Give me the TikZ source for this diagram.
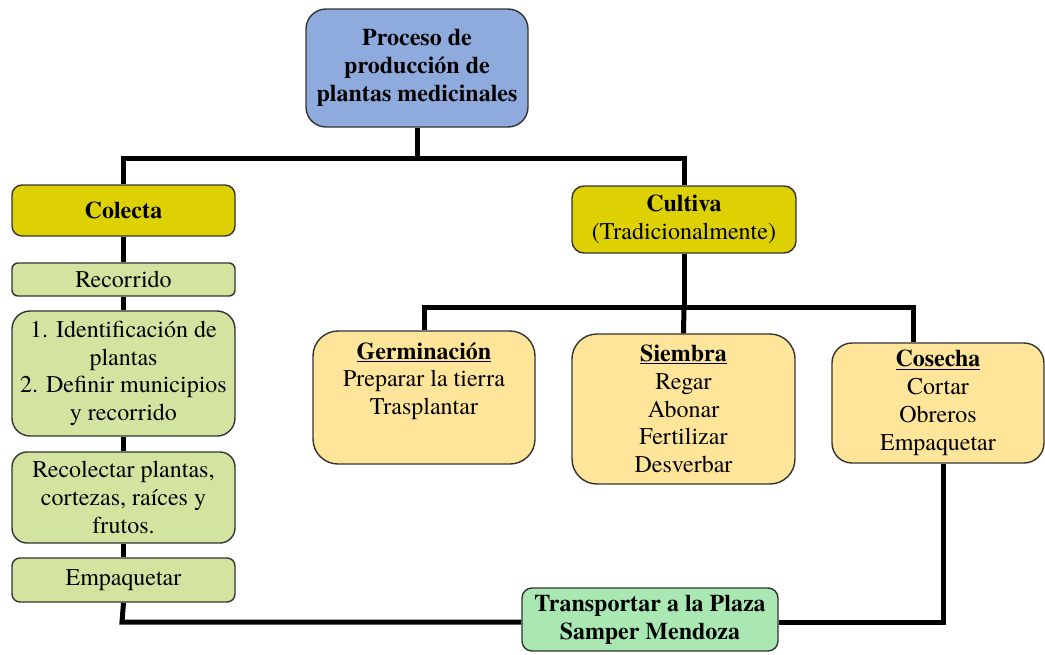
\documentclass[tikz,border=0pt]{standalone}
\usepackage{fontspec}
\setmainfont{texgyretermes}[Extension=.otf, UprightFont=*-regular, BoldFont=*-bold, ItalicFont=*-italic, BoldItalicFont=*-bolditalic]
\usetikzlibrary{backgrounds}
\definecolor{rootc}{HTML}{8FAADC}
\definecolor{olivec}{HTML}{DDD104}
\definecolor{lgreen}{HTML}{D3E3A0}
\definecolor{peach}{HTML}{FFE599}
\definecolor{mint}{HTML}{A9E7B3}
\definecolor{edge}{HTML}{333333}
\tikzset{
  boxs/.style={draw=edge, line width=1.4pt, inner sep=0pt, align=center,
    font=\fontsize{24}{27.8}\selectfont},
  conn/.style={line width=5pt, black},
}
\begin{document}
\begin{tikzpicture}[x=1pt,y=-1pt]
\useasboundingbox (0,0) rectangle (1045,654);
\node[boxs, fill=rootc, rounded corners=20pt, minimum width=222pt, minimum height=118pt] (root) at (417,68)
  {\textbf{Proceso de}\\\textbf{producción de}\\\textbf{plantas medicinales}};
\node[boxs, fill=olivec, rounded corners=10pt, minimum width=223pt, minimum height=51pt] (colecta) at (123.5,210.5)
  {\textbf{Colecta}};
\node[boxs, fill=olivec, rounded corners=12pt, minimum width=224pt, minimum height=67pt] (cultiva) at (684,219.5)
  {\textbf{Cultiva}\\(Tradicionalmente)};
\node[boxs, fill=lgreen, rounded corners=6pt, minimum width=223pt, minimum height=33pt] (recorrido) at (123.5,279.5)
  {Recorrido};
\node[boxs, fill=lgreen, rounded corners=18pt, minimum width=223pt, minimum height=125pt] (ident) at (123.5,373.5)
  {1. Identificación de\\plantas\\2. Definir municipios\\y recorrido};
\node[boxs, fill=lgreen, rounded corners=15pt, minimum width=223pt, minimum height=91pt] (recol) at (123.5,497.5)
  {Recolectar plantas,\\cortezas, raíces y\\frutos.};
\node[boxs, fill=lgreen, rounded corners=8pt, minimum width=223pt, minimum height=44pt] (empaq) at (123.5,580)
  {Empaquetar};
\node[boxs, fill=peach, rounded corners=25pt, minimum width=222pt, minimum height=133pt] (germ) at (424,397.5) {};
\node[boxs, draw=none] (germtext) at (424,381)
  {\underline{\textbf{Germinación}}\\Preparar la tierra\\Trasplantar};
\node[boxs, fill=peach, rounded corners=25pt, minimum width=223pt, minimum height=150pt] (siembra) at (683.5,409)
  {\underline{\textbf{Siembra}}\\Regar\\Abonar\\Fertilizar\\Desverbar};
\node[boxs, fill=peach, rounded corners=20pt, minimum width=212pt, minimum height=120pt] (cosecha) at (938,403)
  {\underline{\textbf{Cosecha}}\\Cortar\\Obreros\\Empaquetar};
\node[boxs, fill=mint, rounded corners=10pt, minimum width=256pt, minimum height=63pt] (transp) at (650,619.5)
  {\textbf{Transportar a la Plaza}\\\textbf{Samper Mendoza}};
\coordinate (j1) at (417,158);
\coordinate (j2) at (684,307);
\coordinate (j3) at (913,307);
\coordinate (j4) at (943,622);
\coordinate (j5) at (122,622);
\begin{scope}[on background layer]
\draw[conn] (root.south) -- (j1);
\draw[conn] (colecta.north) |- (j1) -| (cultiva.north);
\draw[conn] (colecta.south) -- (recorrido.north);
\draw[conn] (recorrido.south) -- (ident.north);
\draw[conn] (ident.south) -- (recol.north);
\draw[conn] (recol.south) -- (empaq.north);
\draw[conn] (cultiva.south) -- (j2);
\draw[conn] (germ.north) |- (j3) -- (j3 |- cosecha.north);
\draw[conn] (j2) -- (siembra.north);
\draw[conn] (empaq.south) -- (j5) -- (j5 -| transp.west);
\draw[conn] (j4 -| transp.east) -- (j4) -- (j4 |- cosecha.south);
\end{scope}
\end{tikzpicture}
\end{document}
